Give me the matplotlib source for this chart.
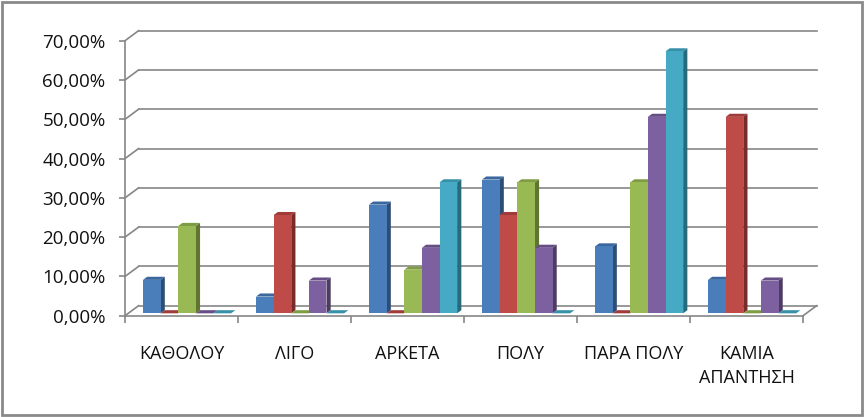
import matplotlib
matplotlib.use("Agg")
import matplotlib.pyplot as plt
from matplotlib.patches import Polygon, Rectangle

plt.rcParams['font.family'] = ['Open Sans', 'DejaVu Sans']

# Data
categories = ['ΚΑΘΟΛΟΥ', 'ΛΙΓΟ', 'ΑΡΚΕΤΑ', 'ΠΟΛΥ', 'ΠΑΡΑ ΠΟΛΥ', 'ΚΑΜΙΑ\nΑΠΑΝΤΗΣΗ']
series_blue = [8.51, 4.26, 27.66, 34.04, 17.02, 8.51]
series_red = [0.0, 25.0, 0.0, 25.0, 0.0, 50.0]
series_green = [22.22, 0.0, 11.11, 33.33, 33.33, 0.0]
series_purple = [0.0, 8.33, 16.67, 16.67, 50.0, 8.33]
series_cyan = [0.0, 0.0, 33.33, 0.0, 66.67, 0.0]
yticks = [0, 10, 20, 30, 40, 50, 60, 70]
ytick_labels = ['0,00%', '10,00%', '20,00%', '30,00%', '40,00%', '50,00%', '60,00%', '70,00%']

all_series = [series_blue, series_red, series_green, series_purple, series_cyan]
front_cols = ['#4A7EBB', '#BE4B48', '#98B954', '#7D60A0', '#46AAC5']
top_cols = ['#3A679E', '#A03B39', '#7E9C43', '#664D86', '#3690A8']
side_cols = ['#2C4D75', '#772C2A', '#5F7530', '#4D3B62', '#276A7C']

# depth of the floor in data units (oblique projection)
DX = 0.12
DY = 2.55
d0, d1 = 0.24, 0.55
bar_w = 0.156
bar_off = 0.13
grid_col = '#868686'


def proj(x, y, d):
    return (x + d * DX, y + d * DY)


fig = plt.figure(figsize=(8.64, 4.17), dpi=100)
ax = fig.add_axes([0.1447, 0.2429, 0.8044, 0.6878])
ax.set_xlim(0, 6 + 0.15)
ax.set_ylim(0, 73)
for s in ax.spines.values():
    s.set_visible(False)

# back wall gridlines + left diagonals
for v in yticks:
    ax.plot([DX, 6 + DX], [v + DY, v + DY], color=grid_col, lw=1.2, zorder=1)
    ax.plot([0, DX], [v, v + DY], color=grid_col, lw=1.2, zorder=1)
# front axes and floor edge
ax.plot([0, 0], [0, 70], color=grid_col, lw=1.2, zorder=1, clip_on=False)
ax.plot([0, 6], [0, 0], color=grid_col, lw=1.2, zorder=1, clip_on=False)
ax.plot([6, 6 + DX], [0, DY], color=grid_col, lw=1.2, zorder=1, clip_on=False)

# bars
for i in range(len(categories)):
    for j, vals in enumerate(all_series):
        v = vals[i]
        x0 = i + bar_off + j * bar_w
        side = [proj(x0 + bar_w, 0, d0), proj(x0 + bar_w, v, d0),
                proj(x0 + bar_w, v, d1), proj(x0 + bar_w, 0, d1)]
        top = [proj(x0, v, d0), proj(x0 + bar_w, v, d0),
               proj(x0 + bar_w, v, d1), proj(x0, v, d1)]
        ax.add_patch(Polygon(side, closed=True, facecolor=side_cols[j],
                             edgecolor='none', zorder=2 + i * 5 + j))
        ax.add_patch(Polygon(top, closed=True, facecolor=top_cols[j],
                             edgecolor='none', zorder=2 + i * 5 + j))
        ax.bar(x0 + d0 * DX, v, width=bar_w, bottom=d0 * DY, align='edge',
               color=front_cols[j], edgecolor='none', zorder=2 + i * 5 + j)

ax.set_yticks(yticks)
ax.set_yticklabels(ytick_labels, fontsize=13.5, color='#111111')
ax.set_xticks(range(0, 7), minor=False)
ax.set_xticklabels([])
ax.set_xticks([i + 0.5 for i in range(len(categories))], minor=True)
ax.set_xticklabels(categories, minor=True, fontsize=13, color='#111111',
                   linespacing=1.45, va='top')
ax.tick_params(axis='y', direction='out', length=4, width=1.2, color=grid_col, pad=10)
ax.tick_params(axis='x', which='major', direction='out', length=5, width=1.2, color=grid_col)
ax.tick_params(axis='x', which='minor', length=0, pad=21)

# outer border
fig.patches.append(Rectangle((0.002, 0.004), 0.996, 0.992, transform=fig.transFigure,
                             fill=False, edgecolor='#8a8a8a', lw=2))

fig.savefig('out.png', dpi=100)
